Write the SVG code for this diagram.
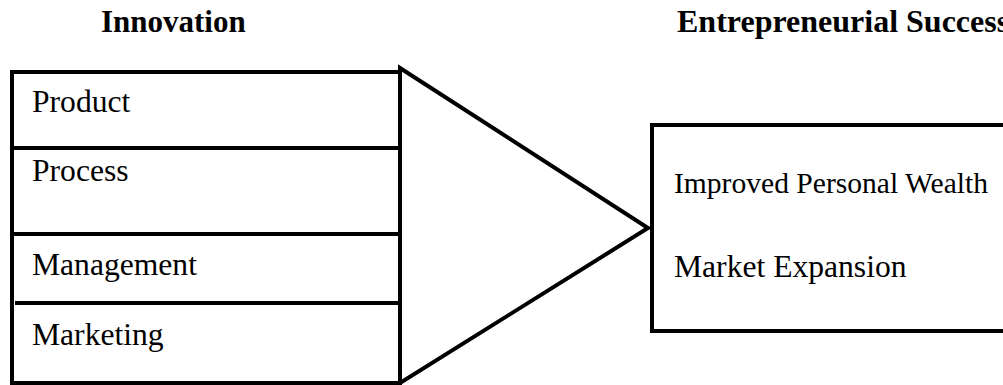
<svg xmlns="http://www.w3.org/2000/svg" width="1003" height="385" viewBox="0 0 1003 385">
<style>
.h{font-family:"Liberation Serif","Times New Roman",serif;font-weight:bold;font-size:31px;fill:#000}
.t{font-family:"Liberation Serif","Times New Roman",serif;font-size:31.6px;fill:#000}
.b{fill:#fff;stroke:#000;stroke-width:4}
.l{stroke:#000;stroke-width:4;fill:none}
</style>
<rect width="1003" height="385" fill="#fff"/>
<text class="h" x="101" y="32">Innovation</text>
<text class="h" x="677" y="32" style="font-size:32px">Entrepreneurial Success</text>
<g id="innovation">
<rect class="b" x="12" y="72" width="388" height="311"/>
<line class="l" x1="12" y1="148" x2="400" y2="148"/>
<line class="l" x1="12" y1="234" x2="400" y2="234"/>
<line class="l" x1="15" y1="303" x2="400" y2="303"/>
<text class="t" x="32" y="112">Product</text>
<text class="t" x="32" y="181">Process</text>
<text class="t" x="32" y="275">Management</text>
<text class="t" x="32" y="345">Marketing</text>
</g>
<g id="connectors">
<polygon class="b" points="400,68 648,228 400,383" stroke-linejoin="miter"/>
</g>
<g id="success">
<rect class="b" x="652" y="125" width="360" height="206"/>
<text class="t" x="674" y="193" style="font-size:30px" textLength="314" lengthAdjust="spacingAndGlyphs">Improved Personal Wealth</text>
<text class="t" x="674" y="277">Market Expansion</text>
</g>
</svg>
